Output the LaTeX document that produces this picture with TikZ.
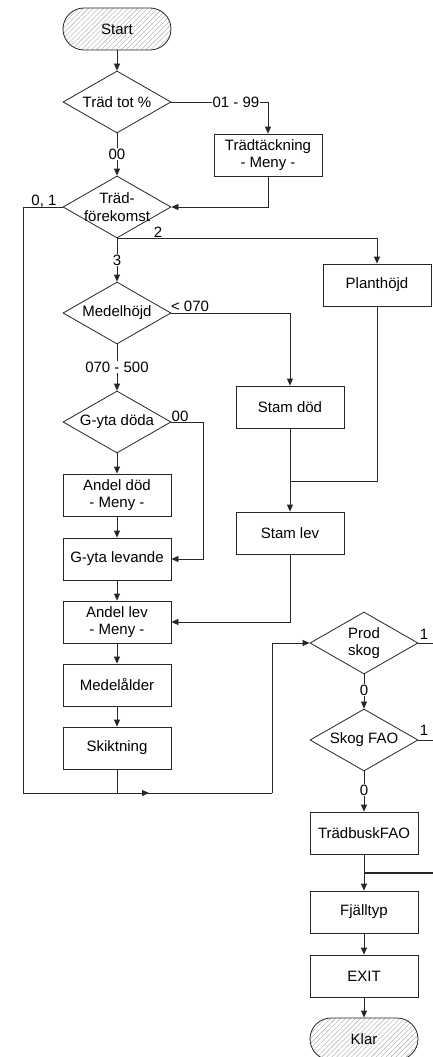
\documentclass[tikz,border=0pt]{standalone}
\usepackage{fontspec}
\setmainfont{Liberation Sans}
\usetikzlibrary{shapes.geometric,arrows.meta,patterns.meta}
\begin{document}
\begin{tikzpicture}[x=1pt,y=-1pt,
  every node/.style={font=\fontsize{15}{17.5}\selectfont, text=black},
  ln/.style={draw=black!85, line width=0.8pt},
  arr/.style={ln, -{Triangle[length=7pt,width=6pt]}},
  proc/.style={draw=black!85, line width=0.8pt, rectangle, minimum width=108pt, minimum height=42pt, inner sep=0pt, align=center, fill=white},
  dia/.style={draw=black!85, line width=0.8pt, diamond, minimum width=108pt, minimum height=62pt, inner sep=0pt},
  term/.style={draw=black!85, line width=0.8pt, rectangle, rounded corners=21pt, minimum width=108pt, minimum height=42pt, inner sep=0pt, pattern={Lines[angle=45,distance=3.5pt,line width=0.4pt]}, pattern color=black!35},
  lab/.style={fill=white, inner sep=1pt},
  plain/.style={inner sep=0pt, align=center},
  ]
\useasboundingbox (0,0) rectangle (433,1057);

% left column
\node[term] (start) at (117,29) {Start};
\node[dia] (d1) at (117,102) {};
\node[plain] (d1t) at (d1) {Träd tot \%};
\node[proc] (tt) at (268,155) {Trädtäckning\\- Meny -};
\node[dia] (d2) at (117,207) {};
\node[plain] (d2t) at (117,207) {Träd-\\förekomst};
\node[proc] (ph) at (377,285) {Planthöjd};
\node[dia] (d3) at (117,313) {};
\node[plain] (d3t) at (d3) {Medelhöjd};
\node[proc] (sd) at (290,407) {Stam död};
\node[dia] (d4) at (117,422) {};
\node[plain] (d4t) at (d4) {G-yta döda};
\node[proc] (ad) at (117,495) {Andel död\\- Meny -};
\node[proc] (sl) at (290,533) {Stam lev};
\node[proc] (gl) at (117,559) {G-yta levande};
\node[proc] (al) at (117,622) {Andel lev\\- Meny -};
\node[proc] (ma) at (117,685) {Medelålder};
\node[proc] (sk) at (117,748) {Skiktning};

% right column
\node[dia] (d5) at (364,643) {};
\node[plain] (d5t) at (d5) {Prod\\skog};
\node[dia] (d6) at (364,740) {};
\node[plain] (d6t) at (d6) {Skog FAO};
\node[proc] (tb) at (364,833) {TrädbuskFAO};
\node[proc] (fj) at (364,912) {Fjälltyp};
\node[proc] (ex) at (364,976) {EXIT};
\node[term] (klar) at (364,1039) {Klar};

% helper coordinates
\coordinate (r1) at (268,102);
\coordinate (r2) at (268,207);
\coordinate (l1) at (23,207);
\coordinate (l2) at (23,793);
\coordinate (b1) at (272,793);
\coordinate (b2) at (272,643);
\coordinate (sb) at (117,793);
\coordinate (sb2) at (149,793);
\coordinate (m1) at (290,313);
\coordinate (g1) at (203,422);
\coordinate (g2) at (203,559);
\coordinate (p1) at (377,481);
\coordinate (p2) at (290,481);
\coordinate (s1) at (290,622);
\coordinate (e1) at (442,643);
\coordinate (e2) at (442,740);
\coordinate (e3) at (442,873);
\coordinate (j1) at (364,873);

% connectors
\draw[arr] (start) -- (d1);
\draw[arr] (d1.east) -- (r1) -- (tt.north);
\draw[arr] (d1.south) -- (d2.north);
\draw[arr] (tt.south) -- (r2) -- (d2.east);
\draw[ln] (d2.west) -- (l1) -- (l2) -- (b1);
\draw[arr] (b1) -- (b2) -- (d5.west);
\draw[arr] (sk.south) -- (sb) -- (sb2);
\draw[arr] (d2.south) -- (117,238) -| (ph.north);
\draw[arr] (d2.south) -- (d3.north);
\draw[arr] (d3.east) -- (m1) -- (sd.north);
\draw[arr] (d3.south) -- (d4.north);
\draw[arr] (d4.south) -- (ad.north);
\draw[arr] (d4.east) -- (g1) -- (g2) -- (gl.east);
\draw[arr] (ad) -- (gl);
\draw[arr] (gl) -- (al);
\draw[arr] (al) -- (ma);
\draw[arr] (ma) -- (sk);
\draw[arr] (sd) -- (sl);
\draw[ln] (ph.south) -- (p1) -- (p2);
\draw[arr] (sl.south) -- (s1) -- (al.east);
\draw[ln] (d5.east) -- (e1) -- (e3);
\draw[ln] (d6.east) -- (e2);
\draw[ln, line width=1.5pt] (e3) -- (j1);
\draw[arr] (d5.south) -- (d6.north);
\draw[arr] (d6.south) -- (tb.north);
\draw[arr] (tb) -- (fj);
\draw[arr] (fj) -- (ex);
\draw[arr] (ex) -- (klar);

% labels
\node[lab] (la1) at (236,102) {01 - 99};
\node[lab] (la2) at (117,154) {00};
\node[plain] (la3) at (44,201) {0, 1};
\node[plain] (la4) at (158,232) {2};
\node[lab] (la5) at (117,260) {3};
\node[plain] (la6) at (190,306) {< 070};
\node[lab] (la7) at (117,367) {070 - 500};
\node[plain] (la8) at (180,416) {00};
\node[plain] (la9) at (424,634) {1};
\node[lab] (la10) at (364,690) {0};
\node[plain] (la11) at (424,730) {1};
\node[lab] (la12) at (364,790) {0};
\end{tikzpicture}
\end{document}
